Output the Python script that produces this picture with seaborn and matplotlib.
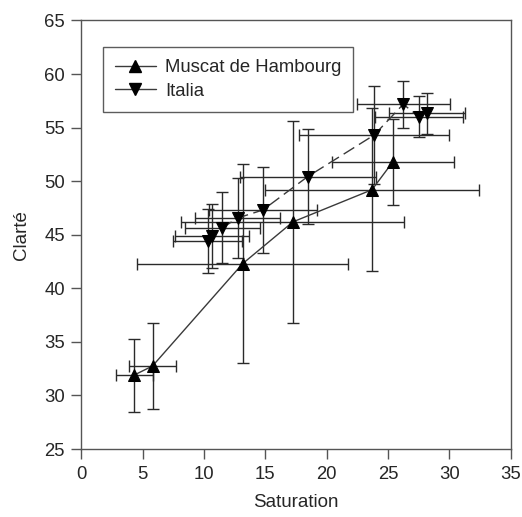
import matplotlib
matplotlib.use("Agg")
import matplotlib.pyplot as plt
from matplotlib.lines import Line2D
import seaborn as sns
import pandas as pd

# Muscat de Hambourg: mean saturation / clarté with standard deviations
sat_muscat = [4.3, 5.8, 13.15, 17.25, 23.7, 25.4]
clar_muscat = [31.9, 32.75, 42.3, 46.2, 49.2, 51.8]
sat_muscat_sd = [1.5, 1.9, 8.6, 9.1, 8.75, 5.0]
clar_muscat_sd = [3.4, 4.05, 9.3, 9.4, 7.6, 4.0]

# Italia
sat_italia = [10.3, 10.67, 11.5, 12.74, 14.8, 18.45, 23.88, 26.25, 27.53, 28.2]
clar_italia = [44.44, 44.88, 45.65, 46.56, 47.31, 50.42, 54.31, 57.18, 56.02, 56.33]
sat_italia_sd = [2.83, 3.0, 3.06, 3.45, 4.38, 5.55, 6.1, 3.8, 3.6, 3.1]
clar_italia_sd = [3.0, 3.0, 3.3, 3.7, 4.0, 4.45, 4.6, 2.2, 1.9, 1.9]

x_ticks = [0, 5, 10, 15, 20, 25, 30, 35]
y_ticks = [25, 30, 35, 40, 45, 50, 55, 60, 65]

sns.set_style("white")
plt.rcParams["font.family"] = ["Liberation Sans", "DejaVu Sans"]

df_m = pd.DataFrame({"Saturation": sat_muscat, "Clarte": clar_muscat})
df_i = pd.DataFrame({"Saturation": sat_italia, "Clarte": clar_italia})

fig = plt.figure(figsize=(5.22, 5.17), dpi=100)
ax = fig.add_axes([0.156, 0.1315, 0.822, 0.8289])

line_col = "#3a3a3a"
err_col = "#2a2a2a"

ax.errorbar(sat_muscat, clar_muscat, xerr=sat_muscat_sd, yerr=clar_muscat_sd,
            fmt="none", ecolor=err_col, elinewidth=1.0, capsize=4, capthick=1.0, zorder=2)
ax.errorbar(sat_italia, clar_italia, xerr=sat_italia_sd, yerr=clar_italia_sd,
            fmt="none", ecolor=err_col, elinewidth=1.0, capsize=4, capthick=1.0, zorder=2)

sns.lineplot(data=df_m, x="Saturation", y="Clarte", sort=False, ax=ax,
             color=line_col, linewidth=1.0, marker="^", markersize=8.5,
             markerfacecolor="black", markeredgecolor="black", zorder=3)
sns.lineplot(data=df_i, x="Saturation", y="Clarte", sort=False, ax=ax,
             color=line_col, linewidth=1.0, linestyle=(0, (9, 4)), marker="v",
             markersize=8.5, markerfacecolor="black", markeredgecolor="black", zorder=3)

ax.set_xlim(0, 35)
ax.set_ylim(25, 65)
ax.set_xticks(x_ticks)
ax.set_yticks(y_ticks)
ax.tick_params(axis="both", which="major", direction="out", length=7, width=1,
               color="#555555", labelsize=13.3, pad=5, bottom=True, left=True)
for side in ["left", "bottom", "right", "top"]:
    ax.spines[side].set_visible(True)
    ax.spines[side].set_color("#555555")
    ax.spines[side].set_linewidth(1.0)

ax.set_xlabel("Saturation", fontsize=13.5, labelpad=8)
ax.set_ylabel("Clarté", fontsize=13.5, labelpad=10)

handles = [
    Line2D([], [], color=line_col, linewidth=1.0, marker="^", markersize=8.5,
           markerfacecolor="black", markeredgecolor="black"),
    Line2D([], [], color=line_col, linewidth=1.0, marker="v", markersize=8.5,
           markerfacecolor="black", markeredgecolor="black"),
]
leg = ax.legend(handles, ["Muscat de Hambourg", "Italia"], loc="upper left",
                bbox_to_anchor=(0.05, 0.938), borderaxespad=0, fontsize=13.3,
                frameon=True, fancybox=False, edgecolor="#333333",
                handlelength=2.2, handletextpad=0.5, labelspacing=0.35,
                borderpad=0.65)
leg.get_frame().set_linewidth(1.0)

fig.savefig("out.png", dpi=100)
